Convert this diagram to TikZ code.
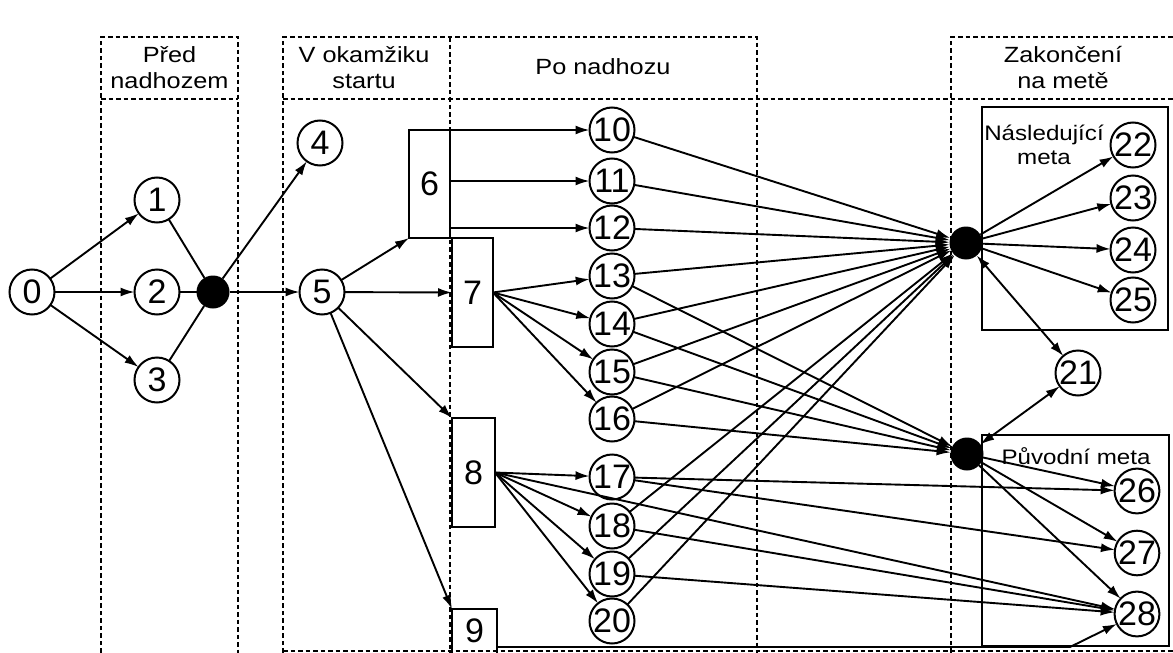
\documentclass[tikz,border=0pt]{standalone}
\usepackage{fontspec}
\setmainfont{Liberation Sans}
\usetikzlibrary{arrows.meta}
% slightly widened lettering for the phase headings
\newcommand{\wideline}[1]{\scalebox{1.15}[1]{#1}}

\begin{document}
\begin{tikzpicture}[x=1pt,y=-1pt,
  every node/.style={inner sep=0pt, outer sep=0pt},
  ev/.style={circle, draw, line width=2pt, minimum size=45pt, font=\fontsize{34}{34}\selectfont},
  joint/.style={circle, fill=black, minimum size=33pt},
  act/.style={draw, line width=1.8pt, font=\fontsize{34}{34}\selectfont},
  grp/.style={draw, line width=1.8pt},
  zone/.style={line width=1.7pt, dash pattern=on 4.5pt off 3pt},
  hdr/.style={align=center, font=\fontsize{22}{26}\selectfont},
  boxlabel/.style={align=center, font=\fontsize{21}{23.5}\selectfont},
  arr/.style={line width=1.9pt, -{Latex[length=14pt,width=9pt]}},
  dbl/.style={line width=1.9pt, {Latex[length=14pt,width=9pt]}-{Latex[length=14pt,width=9pt]}},
  ln/.style={line width=1.9pt},
]
\useasboundingbox (0,0) rectangle (1173,653);
\clip (0,0) rectangle (1173,653);

% phase columns
\draw[zone] (101,660) -- (101,37) -- (238,37) -- (238,660);
\draw[zone] (101,99) -- (238,99);
\draw[zone] (283,660) -- (283,37) -- (757,37) -- (757,660);
\draw[zone] (450,37) -- (450,660);
\draw[zone] (283,99) -- (1180,99);
\draw[zone] (951,660) -- (951,37) -- (1180,37);
\draw[zone] (283,651) -- (1180,651);

\node[hdr] (h1) at (169.5,68) {\wideline{Před}\\\wideline{nadhozem}};
\node[hdr] (h2) at (364,68) {\wideline{V okamžiku}\\\wideline{startu}};
\node[hdr] (h3) at (603,67) {\wideline{Po nadhozu}};
\node[hdr] (h4) at (1063,68) {\wideline{Zakončení}\\\wideline{na metě}};

% target groups
\node[grp, minimum width=186pt, minimum height=223pt, anchor=north west] (g1) at (982,107) {};
\node[boxlabel] (g1t) at (1044,145) {\wideline{Následující}\\\wideline{meta}};
\node[grp, minimum width=187pt, minimum height=211pt, anchor=north west] (g2) at (982,435) {};
\node[boxlabel] (g2t) at (1076,456) {\wideline{Původní meta}};

% events
\node[ev] (n0) at (32,292) {0};
\node[ev] (n1) at (157,200) {1};
\node[ev] (n2) at (157,292) {2};
\node[ev] (n3) at (157,380) {3};
\node[joint] (j1) at (213,292) {};
\node[ev] (n4) at (320,143) {4};
\node[ev] (n5) at (322,292) {5};

\node[act, minimum width=41pt, minimum height=108pt] (b6) at (429.5,184) {6};
\node[act, minimum width=41pt, minimum height=109pt] (b7) at (472.5,292.5) {7};
\node[act, minimum width=43pt, minimum height=109pt] (b8) at (473.5,472.5) {8};
\node[grp, minimum width=45pt, minimum height=60pt, anchor=north west] (b9) at (452,609) {};
\node[font=\fontsize{34}{34}\selectfont] (l9) at (474.5,631) {9};

\node[ev] (n10) at (612,130) {10};
\node[ev] (n11) at (612,181) {11};
\node[ev] (n12) at (612,228) {12};
\node[ev] (n13) at (612,276) {13};
\node[ev] (n14) at (612,324) {14};
\node[ev] (n15) at (612,372) {15};
\node[ev] (n16) at (612,419) {16};
\node[ev] (n17) at (612,477) {17};
\node[ev] (n18) at (612,526) {18};
\node[ev] (n19) at (612,574) {19};
\node[ev] (n20) at (612,621) {20};

\node[joint] (ju) at (966,243) {};
\node[joint] (jl) at (967,454) {};
\node[ev] (n21) at (1078,373) {21};

\node[ev] (n22) at (1133,145) {22};
\node[ev] (n23) at (1133,198) {23};
\node[ev] (n24) at (1133,250) {24};
\node[ev] (n25) at (1133,300) {25};
\node[ev, minimum size=44pt] (n26) at (1137,491) {26};
\node[ev, minimum size=44pt] (n27) at (1137,553) {27};
\node[ev, minimum size=44pt] (n28) at (1137,614) {28};

% before the throw
\foreach \t in {n1,n2,n3} \draw[arr] (n0) -- (\t);
\foreach \t in {n1,n2,n3} \draw[ln] (\t) -- (j1);
\draw[arr] (j1) -- (n4);
\draw[arr] (j1) -- (n5);

% moment of start
\draw[arr] (n5) -- (b6.south west);
\draw[arr] (n5) -- (b7.west);
\draw[arr] (n5) -- (b8.north west);
\draw[arr] (n5) -- (b9.north west);

% after the throw
\draw[arr] (b6.north west) -- (n10);
\draw[arr] (n11 -| b6.east) -- (n11);
\draw[arr] (n12 -| b6.east) -- (n12);
\foreach \t in {n13,n14,n15,n16} \draw[arr] (b7.east) -- (\t);
\foreach \t in {n17,n18,n19,n20} \draw[arr] (b8.east) -- (\t);
\draw[arr] (b8.east) -- (n28);

\foreach \s in {n10,n11,n12,n13,n14,n15,n16,n18,n19,n20} \draw[arr] (\s) -- (ju);
\foreach \s in {n13,n14,n15,n16} \draw[arr] (\s) -- (jl);
\draw[arr] (n17) -- (n26);
\draw[arr] (n17) -- (n27);
\draw[arr] (n18) -- (n28);
\draw[arr] (n19) -- (n28);
\coordinate (k9) at (1070,647);
\draw[arr] (b9.east |- k9) -- (k9) -- (n28);

% finishing on a base
\draw[dbl] (ju) -- (n21);
\draw[dbl] (n21) -- (jl);
\foreach \t in {n22,n23,n24,n25} \draw[arr] (ju) -- (\t);
\foreach \t in {n26,n27,n28} \draw[arr] (jl) -- (\t);
\end{tikzpicture}
\end{document}
